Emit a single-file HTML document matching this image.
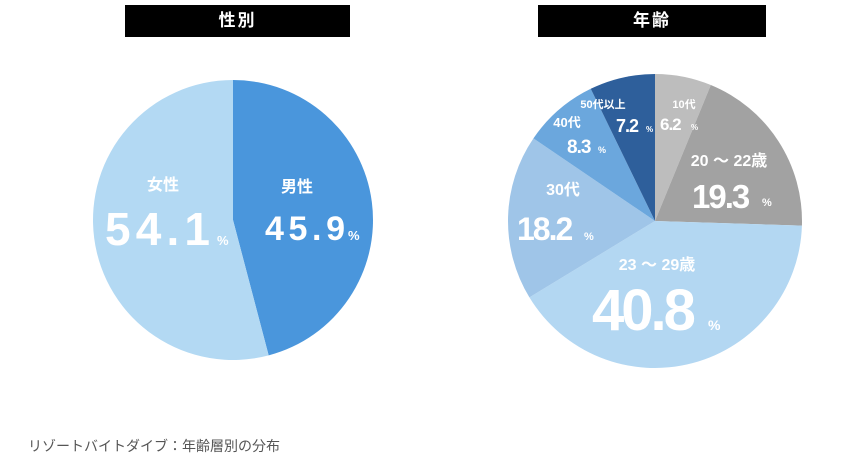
<!DOCTYPE html>
<html><head><meta charset="utf-8">
<style>
html,body{margin:0;padding:0;background:#fff;}
body{width:853px;height:457px;overflow:hidden;position:relative;font-family:"Liberation Sans","Noto Sans CJK JP",sans-serif;}
.hd{position:absolute;top:5px;height:32px;background:#000;color:#fff;font-weight:bold;font-size:17px;line-height:32px;text-align:center;letter-spacing:2px;}
.cap{position:absolute;left:28px;top:436px;font-size:14px;color:#555;}
svg{position:absolute;left:0;top:0;}
</style></head><body>
<div class="hd" style="left:125px;width:225px;">性別</div>
<div class="hd" style="left:538px;width:228px;">年齢</div>
<svg id="s" width="853" height="457" font-family="Liberation Sans, Noto Sans CJK JP, sans-serif" font-weight="bold" fill="#fff"></svg>
<div class="cap">リゾートバイトダイブ：年齢層別の分布</div>
<script>
var s=document.getElementById('s'),ns='http://www.w3.org/2000/svg';
function pie(cx,cy,r,data){var a=0;data.forEach(function(d){var a0=a,a1=a+d[0]/100*2*Math.PI;a=a1;
var x0=cx+r*Math.sin(a0),y0=cy-r*Math.cos(a0),x1=cx+r*Math.sin(a1),y1=cy-r*Math.cos(a1);
var p=document.createElementNS(ns,'path');p.setAttribute('d','M'+cx+','+cy+'L'+x0+','+y0+'A'+r+','+r+' 0 '+((a1-a0)>Math.PI?1:0)+' 1 '+x1+','+y1+'Z');p.setAttribute('fill',d[1]);s.appendChild(p);});}
pie(233,220,140,[[45.9,'#4a96dc'],[54.1,'#b3d9f3']]);
pie(655,221,147,[[6.2,'#bdbdbd'],[19.3,'#a2a2a2'],[40.8,'#b3d7f2'],[18.2,'#9fc5e8'],[8.3,'#6ba7dd'],[7.2,'#2e5f9b']]);
function t(x,y,sz,txt,anchor,len,ls){var e=document.createElementNS(ns,'text');e.setAttribute('x',x);e.setAttribute('y',y);e.setAttribute('font-size',sz);if(anchor)e.setAttribute('text-anchor',anchor);if(len)e.setAttribute('textLength',len);if(ls)e.setAttribute('letter-spacing',ls);e.textContent=txt;s.appendChild(e);}
t(163,190,16,'女性','middle');t(105,245,46,'54.1',null,105);t(217,245,13,'%');
t(297,192,16,'男性','middle');t(265,240,34,'45.9',null,80);t(348,240,13,'%');
t(684,108,11,'10代','middle');t(660,130,17,'6.2',null,null,-1);t(691,130,8,'%');
t(603,108,11,'50代以上','middle');t(616,132,18,'7.2',null,null,-1);t(646,132,8,'%');
t(567,127,13,'40代','middle');t(567,153,19,'8.3',null,null,-1);t(598,153,9,'%');
t(563,195,16,'30代','middle');t(517,240,32,'18.2',null,null,-2);t(584,240,11,'%');
t(729,166,16,'20 〜 22歳','middle');t(692,208,33,'19.3',null,null,-2);t(762,206,11,'%');
t(657,270,16,'23 〜 29歳','middle');t(592,330,58,'40.8',null,null,-3);t(708,330,14,'%');
</script>
</body></html>
